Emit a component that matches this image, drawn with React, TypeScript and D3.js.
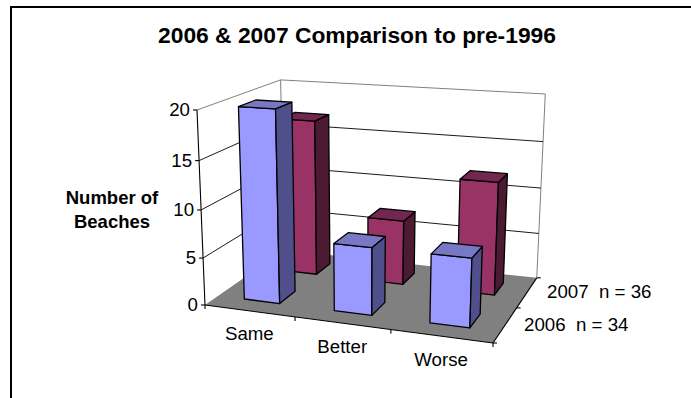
import React from "react";
import * as d3 from "d3";

const categories = ["Same", "Better", "Worse"];
const seriesNames = ["2006  n = 34", "2007  n = 36"];
const values2006 = [20, 7, 7];
const values2007 = [17, 7, 12];
const yTicks = [0, 5, 10, 15, 20];

const WIDTH = 691;
const HEIGHT = 398;

type Pt = [number, number];

// Box corners of the 3D plot on screen, with perspective weights.
const O: Pt = [205, 305];
const U: Pt = [493, 343];
const V: Pt = [284, 250];
const W: Pt = [197, 110];
const wu = 0.91;
const wv = 1.155;
const ww = 0.951;

function project(u: number, v: number, w: number): Pt {
  const d = 1 + u * (wu - 1) + v * (wv - 1) + w * (ww - 1);
  const at = (k: 0 | 1) =>
    (O[k] + u * (wu * U[k] - O[k]) + v * (wv * V[k] - O[k]) + w * (ww * W[k] - O[k])) / d;
  return [at(0), at(1)];
}

const uScale = d3.scaleBand<number>().domain([0, 1, 2]).range([0, 1]).paddingInner(0.6).paddingOuter(0.3);
const vScale = d3.scaleBand<number>().domain([0, 1]).range([0, 1]).paddingInner(0.6).paddingOuter(0.3);
const wScale = d3.scaleLinear().domain([0, 20]).range([0, 1]);

const poly = (pts: Pt[]) => d3.line()(pts)! + "Z";
const seg = (a: Pt, b: Pt) => d3.line()([a, b])!;

const palettes = [
  { front: "#9999ff", side: "#4f4f8c", top: "#7878c4" },
  { front: "#993366", side: "#4d1a33", top: "#73264f" },
];

function Bar({ cat, s, value }: { cat: number; s: number; value: number }) {
  const u0 = uScale(cat)!;
  const u1 = u0 + uScale.bandwidth();
  const v0 = vScale(s)!;
  const v1 = v0 + vScale.bandwidth();
  const h = wScale(value);
  const c = palettes[s];
  const stroke = { stroke: "#000", strokeWidth: 1.3, strokeLinejoin: "round" as const };
  return (
    <g>
      <path d={poly([project(u0, v0, 0), project(u1, v0, 0), project(u1, v0, h), project(u0, v0, h)])} fill={c.front} {...stroke} />
      <path d={poly([project(u1, v0, 0), project(u1, v1, 0), project(u1, v1, h), project(u1, v0, h)])} fill={c.side} {...stroke} />
      <path d={poly([project(u0, v0, h), project(u1, v0, h), project(u1, v1, h), project(u0, v1, h)])} fill={c.top} {...stroke} />
    </g>
  );
}

export default function App() {
  const font = "'Liberation Sans', Arial, sans-serif";
  return (
    <svg
      width={WIDTH}
      height={HEIGHT}
      viewBox={`0 0 ${WIDTH} ${HEIGHT}`}
      style={{ position: "absolute", left: 0, top: 0, background: "#fff" }}
      fontFamily={font}
    >
      <path d="M11 398V7H691" fill="none" stroke="#000" strokeWidth={2} />
      <text x={357} y={43} textAnchor="middle" fontSize={22.8} fontWeight="bold">
        2006 &amp; 2007 Comparison to pre-1996
      </text>
      <text textAnchor="middle" fontSize={18.5} fontWeight="bold">
        <tspan x={112} y={204}>Number of</tspan>
        <tspan x={112} y={228}>Beaches</tspan>
      </text>

      {/* walls */}
      <path d={seg(project(0, 0, 1), project(0, 1, 1))} stroke="#808080" fill="none" />
      <path d={seg(project(0, 1, 1), project(1, 1, 1))} stroke="#808080" fill="none" />
      <path d={seg(project(0, 1, 0), project(0, 1, 1))} stroke="#808080" fill="none" />
      <path d={seg(project(1, 1, 0), project(1, 1, 1))} stroke="#808080" fill="none" />

      {/* gridlines along the side and back walls */}
      {yTicks.slice(1, -1).map((t) => {
        const w = wScale(t);
        return (
          <g key={t} stroke="#000" fill="none" strokeWidth={0.9}>
            <path d={seg(project(0, 0, w), project(0, 1, w))} />
            <path d={seg(project(0, 1, w), project(1, 1, w))} />
          </g>
        );
      })}

      {/* floor */}
      <path d={poly([project(0, 0, 0), project(1, 0, 0), project(1, 1, 0), project(0, 1, 0)])} fill="#808080" />

      {/* axes */}
      <g stroke="#000" fill="none" strokeWidth={1.1}>
        <path d={seg(project(0, 0, 0), project(0, 0, 1))} />
        <path d={seg(project(0, 0, 0), project(1, 0, 0))} />
        <path d={seg(project(1, 0, 0), project(1, 1, 0))} />
        {yTicks.map((t) => {
          const p = project(0, 0, wScale(t));
          return <path key={t} d={seg([p[0] - 4, p[1]], p)} />;
        })}
        {[0, 1, 2, 3].map((i) => {
          const p = project(i / 3, 0, 0);
          return <path key={i} d={seg(p, [p[0], p[1] + 4])} />;
        })}
        {[0, 1, 2].map((i) => {
          const p = project(1, i / 2, 0);
          return <path key={i} d={seg(p, [p[0] + 4, p[1]])} />;
        })}
      </g>

      {/* bars, back row first */}
      {values2007.map((d, i) => <Bar key={`b${i}`} cat={i} s={1} value={d} />)}
      {values2006.map((d, i) => <Bar key={`f${i}`} cat={i} s={0} value={d} />)}

      {/* tick labels */}
      <g fontSize={18.7} fill="#000">
        {yTicks.map((t) => {
          const p = project(0, 0, wScale(t));
          return (
            <text key={t} x={p[0] - 7} y={p[1] + 6} textAnchor="end">{t}</text>
          );
        })}
        {categories.map((c, i) => {
          const p = project((i + 0.5) / 3, 0, 0);
          return (
            <text key={c} x={p[0]} y={p[1] + 29.5} textAnchor="middle">{c}</text>
          );
        })}
        <text x={524} y={331} xmlSpace="preserve">{seriesNames[0]}</text>
        <text x={547} y={298} xmlSpace="preserve">{seriesNames[1]}</text>
      </g>
    </svg>
  );
}
